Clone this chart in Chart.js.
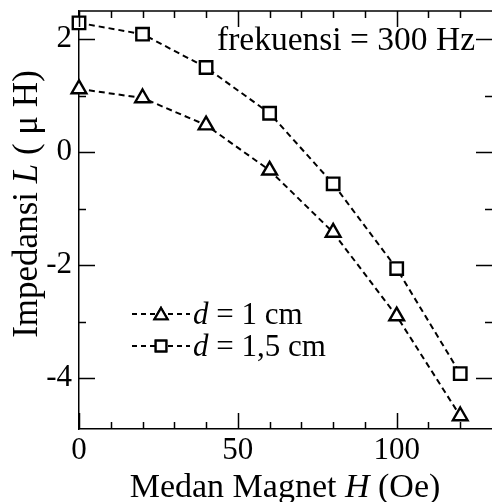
<!DOCTYPE html>
<html>
<head>
<meta charset="utf-8">
<script src="https://cdn.jsdelivr.net/npm/chart.js@4.4.1/dist/chart.umd.min.js"></script>
<style>
html,body{margin:0;padding:0;background:#fff;}
#wrap{width:492px;height:502px;}
</style>
</head>
<body>
<div id="wrap"><canvas id="c" width="492" height="502"></canvas></div>
<script>
// ---- data ----
const fieldH = [0, 20, 40, 60, 80, 100, 120];           // Medan Magnet H (Oe)
const seriesD1 = [1.12, 0.96, 0.48, -0.32, -1.42, -2.90, -4.67];   // d = 1 cm
const seriesD15 = [2.29, 2.09, 1.50, 0.69, -0.56, -2.06, -3.92];   // d = 1,5 cm
const xMajorTicks = [0, 50, 100];
const xMinorTicks = [10, 20, 30, 40, 60, 70, 80, 90, 110, 120];
const yMajorTicks = [-4, -2, 0, 2];
const yMinorTicks = [-3, -1, 1];
const xTickLabels = ['0', '50', '100'];
const yTickLabels = ['-4', '-2', '0', '2'];
const seriesNames = ['d = 1 cm', 'd = 1,5 cm'];

const SERIF = '"Liberation Serif", "Times New Roman", serif';

function pts(ys){ return fieldH.map((x,i)=>({x:x, y:ys[i]})); }

const decor = {
  id: 'decor',
  afterDraw(chart){
    const ctx = chart.ctx, xs = chart.scales.x, ys = chart.scales.y;
    const a = chart.chartArea;
    ctx.save();
    ctx.strokeStyle = '#000';
    ctx.lineWidth = 1.5;
    // top frame line
    ctx.beginPath(); ctx.moveTo(a.left, a.top); ctx.lineTo(a.right, a.top); ctx.stroke();
    // inward ticks
    function xt(v, len){
      const px = Math.round(xs.getPixelForValue(v)) + 0.5;
      ctx.beginPath(); ctx.moveTo(px, a.bottom); ctx.lineTo(px, a.bottom - len);
      ctx.moveTo(px, a.top); ctx.lineTo(px, a.top + len); ctx.stroke();
    }
    function yt(v, len){
      const py = Math.round(ys.getPixelForValue(v)) + 0.5;
      ctx.beginPath(); ctx.moveTo(a.left, py); ctx.lineTo(a.left + len, py);
      ctx.moveTo(a.right, py); ctx.lineTo(a.right - len, py); ctx.stroke();
    }
    xMajorTicks.forEach(v=>xt(v,16)); xMinorTicks.forEach(v=>xt(v,7));
    yMajorTicks.forEach(v=>yt(v,16)); yMinorTicks.forEach(v=>yt(v,7));

    ctx.fillStyle = '#000';
    ctx.textBaseline = 'alphabetic';
    function runs(parts, size){
      let w = 0;
      parts.forEach(p=>{ ctx.font = (p.it?'italic ':'') + size + 'px ' + SERIF; w += ctx.measureText(p.t).width; });
      return w;
    }
    function drawRuns(parts, size, x, y){
      let cx = x;
      parts.forEach(p=>{ ctx.font = (p.it?'italic ':'') + size + 'px ' + SERIF; ctx.textAlign='left'; ctx.fillText(p.t, cx, y); cx += ctx.measureText(p.t).width; });
    }
    // x title
    const xt1 = [{t:'Medan Magnet '},{t:'H',it:true},{t:' (Oe)'}];
    const wx = runs(xt1, 34);
    drawRuns(xt1, 34, 285 - wx/2, 497);
    // y title (rotated)
    const yt1 = [{t:'Impedansi '},{t:'L',it:true},{t:' ( \u03bc H)'}];
    const wy = runs(yt1, 35);
    ctx.save();
    ctx.translate(37, 204);
    ctx.rotate(-Math.PI/2);
    drawRuns(yt1, 35, -wy/2, 0);
    ctx.restore();
    // frequency note
    ctx.font = '33.5px ' + SERIF; ctx.textAlign = 'right';
    ctx.fillText('frekuensi = 300 Hz', 475, 50);
    // legend
    const rows = [{y:314, style:'triangle'}, {y:346, style:'rect'}];
    rows.forEach((r,i)=>{
      ctx.save();
      ctx.lineWidth = 2; ctx.setLineDash([5,4]);
      ctx.beginPath(); ctx.moveTo(132, r.y); ctx.lineTo(190, r.y); ctx.stroke();
      ctx.restore();
      ctx.save();
      ctx.fillStyle = '#fff'; ctx.strokeStyle = '#000'; ctx.lineWidth = 2.2;
      Chart.helpers.drawPoint(ctx, {pointStyle:r.style, radius:7.5, borderWidth:2.2}, 161, r.y + (r.style==='triangle'?1.5:0));
      ctx.fill(); ctx.stroke();
      ctx.restore();
      const name = seriesNames[i];
      const parts = [{t:name.charAt(0), it:true},{t:name.slice(1)}];
      drawRuns(parts, 31, 193, r.y + 10);
    });
    ctx.restore();
  }
};

new Chart(document.getElementById('c'), {
  type: 'scatter',
  data: {
    datasets: [
      { label: seriesNames[0], data: pts(seriesD1), showLine: true, borderColor:'#000', borderWidth:2,
        borderDash:[6,4], pointStyle:'triangle', pointRadius:8.5, pointBorderWidth:2.4,
        pointBackgroundColor:'#fff', pointBorderColor:'#000', clip:false },
      { label: seriesNames[1], data: pts(seriesD15), showLine: true, borderColor:'#000', borderWidth:2,
        borderDash:[6,4], pointStyle:'rect', pointRadius:8.8, pointBorderWidth:2.4,
        pointBackgroundColor:'#fff', pointBorderColor:'#000', clip:false }
    ]
  },
  options: {
    responsive: false,
    animation: false,
    events: [],
    layout: { autoPadding: false, padding: { left: 0, top: 11, right: -2, bottom: 0 } },
    plugins: { legend: { display:false }, tooltip: { enabled:false } },
    scales: {
      x: {
        type:'linear', min:0, max:130,
        afterBuildTicks: s => { s.ticks = xMajorTicks.map(v=>({value:v})); },
        afterFit: s => { s.height = 73; s.paddingLeft = 0; s.paddingRight = 0; },
        grid: { display:false, drawTicks:false },
        border: { display:true, color:'#000', width:1.5 },
        ticks: { color:'#000', font:{ family:SERIF, size:31 }, padding:3, maxRotation:0,
                 callback: (v)=>{ const i = xMajorTicks.indexOf(v); return i>=0 ? xTickLabels[i] : ''; } }
      },
      y: {
        type:'linear', min:-4.9, max:2.5,
        afterBuildTicks: s => { s.ticks = yMajorTicks.map(v=>({value:v})); },
        afterFit: s => { s.width = 79; s.paddingTop = 0; s.paddingBottom = 0; },
        grid: { display:false, drawTicks:false },
        border: { display:true, color:'#000', width:1.5 },
        ticks: { color:'#000', font:{ family:SERIF, size:31 }, padding:7,
                 callback: (v)=>{ const i = yMajorTicks.indexOf(v); return i>=0 ? yTickLabels[i] : ''; } }
      }
    }
  },
  plugins: [decor]
});
</script>
</body>
</html>
